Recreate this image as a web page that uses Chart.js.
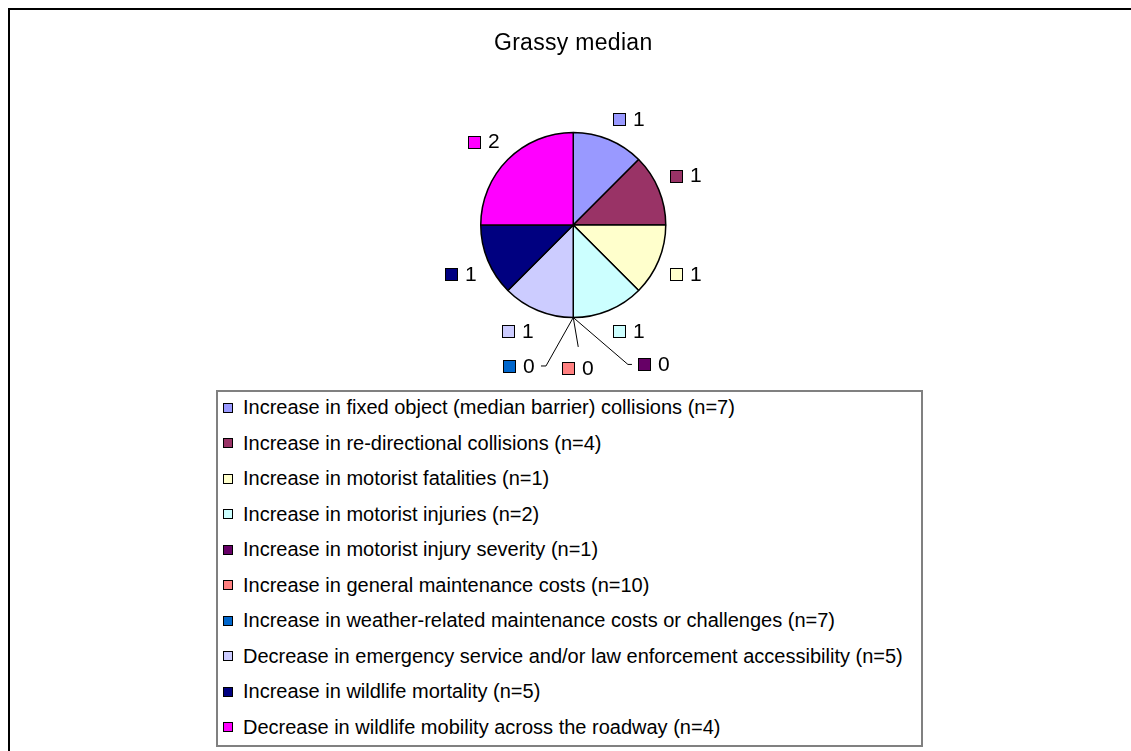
<!DOCTYPE html>
<html>
<head>
<meta charset="utf-8">
<script src="https://cdn.jsdelivr.net/npm/chart.js@4.4.1/dist/chart.umd.min.js"></script>
<style>
  html, body { margin: 0; background: #fff; overflow: hidden; }
  #wrap { position: relative; width: 1131px; height: 751px; overflow: hidden; }
  #frame { position: absolute; left: 8px; top: 8px; width: 1140px; height: 760px;
           border-left: 2px solid #000; border-top: 2px solid #000;
           border-right: none; border-bottom: none; }
  #pie { position: absolute; left: 0; top: 0; }
  #legend { position: absolute; left: 216px; top: 390px; width: 707px; height: 357px;
            box-sizing: border-box; border: 2px solid #808080; background: #fff;
            font-family: "Liberation Sans", Arial, sans-serif; font-size: 20px;
            color: #000; }
  #legend ul { list-style: none; margin: -2px 0 0 0; padding: 0; }
  #legend li { height: 35.5px; display: flex; align-items: center; white-space: nowrap; }
  #legend .key { flex: none; width: 8px; height: 8px; border: 1px solid #000;
                 margin-left: 5px; margin-right: 10px; }
</style>
</head>
<body>
<div id="wrap">
  <div id="frame"></div>
  <canvas id="pie" width="1131" height="751"></canvas>
  <div id="legend"></div>
</div>
<script>
var chartTitle = 'Grassy median';
var categories = [
  'Increase in fixed object (median barrier) collisions (n=7)',
  'Increase in re-directional collisions (n=4)',
  'Increase in motorist fatalities (n=1)',
  'Increase in motorist injuries (n=2)',
  'Increase in motorist injury severity (n=1)',
  'Increase in general maintenance costs (n=10)',
  'Increase in weather-related maintenance costs or challenges (n=7)',
  'Decrease in emergency service and/or law enforcement accessibility (n=5)',
  'Increase in wildlife mortality (n=5)',
  'Decrease in wildlife mobility across the roadway (n=4)'
];
var responses = [1, 1, 1, 1, 0, 0, 0, 1, 1, 2];
var sliceColors = ['#9999FF', '#993366', '#FFFFCC', '#CCFFFF', '#660066',
                   '#FF8080', '#0066CC', '#CCCCFF', '#000080', '#FF00FF'];

var FONT = '"Liberation Sans", Arial, sans-serif';

// excel draws the title a touch wider than plain Arial
var wideText = {
  id: 'wideText',
  beforeDraw: function(chart) { chart.ctx.letterSpacing = '0.3px'; }
};

// value labels with a small colour key, zero slices get leader lines
var valueLabels = {
  id: 'valueLabels',
  afterDatasetsDraw: function(chart) {
    var ctx = chart.ctx;
    var meta = chart.getDatasetMeta(0);
    var zeroSpread = [-30, -2, 21];
    var zeroDist = [161, 143, 151];
    var z = 0;
    ctx.save();
    ctx.letterSpacing = '0px';
    ctx.font = '21px ' + FONT;
    ctx.textBaseline = 'middle';
    ctx.textAlign = 'left';
    meta.data.forEach(function(arc, i) {
      var p = arc.getProps(['x', 'y', 'startAngle', 'endAngle', 'outerRadius'], true);
      var mid = (p.startAngle + p.endAngle) / 2;
      var cos = Math.cos(mid), sin = Math.sin(mid);
      var txt = String(responses[i]);
      var tw = ctx.measureText(txt).width;
      var w = 20 + tw, h = 19;
      var cx, cy;
      if (responses[i] === 0) {
        var a = mid + zeroSpread[z] * Math.PI / 180;
        cx = p.x + Math.cos(a) * zeroDist[z];
        cy = p.y + Math.sin(a) * zeroDist[z];
        z++;
        var sx = p.x + cos * p.outerRadius, sy = p.y + sin * p.outerRadius;
        ctx.strokeStyle = '#000';
        ctx.lineWidth = 1;
        ctx.beginPath();
        ctx.moveTo(sx, sy);
        if (cx - p.x > 20) {
          ctx.lineTo(cx - w / 2 - 10, cy);
          ctx.lineTo(cx - w / 2 - 6, cy);
        } else if (cx - p.x < -20) {
          ctx.lineTo(cx + w / 2 + 11, cy);
          ctx.lineTo(cx + w / 2 + 6, cy);
        } else {
          ctx.lineTo(cx, cy - 21);
        }
        ctx.stroke();
      } else {
        var ax = p.x + cos * (p.outerRadius + 12);
        var ay = p.y + sin * (p.outerRadius + 12);
        cx = ax + Math.sign(cos) * w / 2;
        cy = ay + Math.sign(sin) * h / 2;
      }
      var left = Math.round(cx - w / 2);
      var top = Math.round(cy - 6);
      ctx.fillStyle = sliceColors[i];
      ctx.fillRect(left, top, 12, 12);
      ctx.strokeStyle = '#000';
      ctx.lineWidth = 1;
      ctx.strokeRect(left + 0.5, top + 0.5, 12, 12);
      ctx.fillStyle = '#000';
      ctx.fillText(txt, left + 20, cy + 1);
    });
    ctx.restore();
  }
};

// boxed legend under the pie, one entry per line
var boxLegend = {
  id: 'boxLegend',
  afterUpdate: function(chart) {
    var items = Chart.overrides.pie.plugins.legend.labels.generateLabels(chart);
    var box = document.getElementById('legend');
    var ul = document.createElement('ul');
    items.forEach(function(item) {
      var li = document.createElement('li');
      var key = document.createElement('span');
      key.className = 'key';
      key.style.background = item.fillStyle;
      li.appendChild(key);
      li.appendChild(document.createTextNode(item.text));
      ul.appendChild(li);
    });
    box.innerHTML = '';
    box.appendChild(ul);
  }
};

var ctx = document.getElementById('pie').getContext('2d');
var myChart = new Chart(ctx, {
  type: 'pie',
  data: {
    labels: categories,
    datasets: [{
      data: responses,
      backgroundColor: sliceColors,
      borderColor: '#000',
      borderWidth: 1.5
    }]
  },
  options: {
    responsive: false,
    animation: false,
    devicePixelRatio: 1,
    layout: { padding: { left: 480, right: 464.5, top: 30, bottom: 432.75 } },
    plugins: {
      legend: { display: false },
      tooltip: { enabled: false },
      title: {
        display: true,
        text: chartTitle,
        color: '#000',
        font: { family: FONT, size: 23, weight: 'normal' },
        padding: { top: 0, bottom: 74.15 }
      }
    }
  },
  plugins: [wideText, valueLabels, boxLegend]
});
</script>
</body>
</html>
